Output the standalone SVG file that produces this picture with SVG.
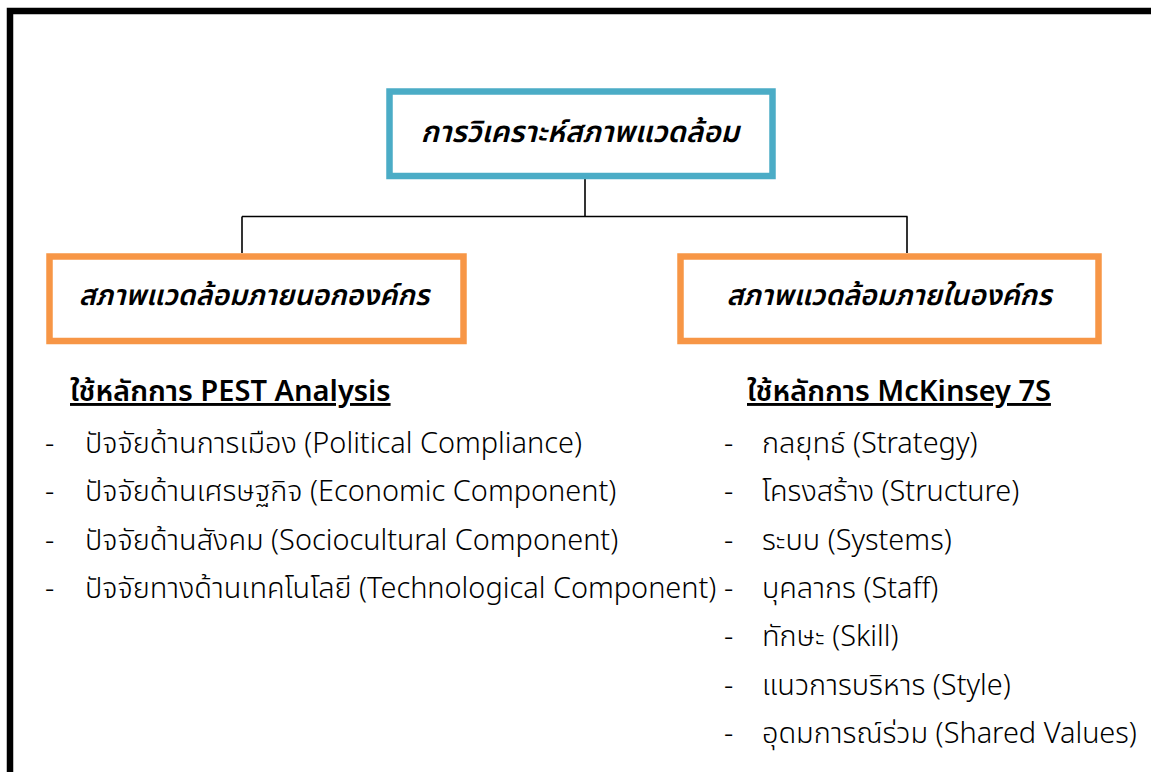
<svg xmlns="http://www.w3.org/2000/svg" width="1151" height="772" viewBox="0 0 1151 772">
<style>
.frame{fill:none;stroke:#000;stroke-width:6.5}
.conn{fill:none;stroke:#000;stroke-width:1.6}
.blue{fill:#fff;stroke:#4BACC6;stroke-width:6.5}
.orange{fill:#fff;stroke:#F79646;stroke-width:6.5}
.box{font-family:"Noto Sans Thai","Noto Sans","DejaVu Sans",sans-serif;font-style:italic;font-weight:600;font-size:29.5px;fill:#000;text-anchor:middle}
.sub{font-size:28.5px}
.hdr{font-family:"Noto Sans Thai","Noto Sans","DejaVu Sans",sans-serif;font-weight:600;font-size:29px;fill:#000;text-decoration:underline}
.item{font-family:"Noto Sans Thai","Noto Sans","DejaVu Sans",sans-serif;font-weight:300;font-size:28.9px;fill:#000}
</style>
<rect width="1151" height="772" fill="#fff"/>
<rect class="frame" x="10" y="11" width="1160" height="780"/>
<g id="connectors">
<line class="conn" x1="585" y1="179" x2="585" y2="216.5"/>
<line class="conn" x1="242" y1="216.5" x2="907.5" y2="216.5"/>
<line class="conn" x1="242" y1="216.5" x2="242" y2="253"/>
<line class="conn" x1="907" y1="216.5" x2="907" y2="253"/>
</g>
<g id="root">
<rect class="blue" x="389.5" y="91.5" width="383" height="84.5"/>
<text class="box" x="580" y="142">การวิเคราะห์สภาพแวดล้อม</text>
</g>
<g id="external">
<rect class="orange" x="49.5" y="256.5" width="414" height="84.5"/>
<text class="box sub" x="254" y="305">สภาพแวดล้อมภายนอกองค์กร</text>
</g>
<g id="internal">
<rect class="orange" x="680.5" y="256.5" width="418" height="84.5"/>
<text class="box sub" x="889" y="305">สภาพแวดล้อมภายในองค์กร</text>
</g>
<g id="pest">
<text class="hdr" x="70" y="401">ใช้หลักการ PEST Analysis</text>
<text class="item" x="45" y="453">-</text><text class="item" x="85" y="453">ปัจจัยด้านการเมือง (Political Compliance)</text>
<text class="item" x="45" y="501">-</text><text class="item" x="85" y="501">ปัจจัยด้านเศรษฐกิจ (Economic Component)</text>
<text class="item" x="45" y="550">-</text><text class="item" x="85" y="550">ปัจจัยด้านสังคม (Sociocultural Component)</text>
<text class="item" x="45" y="598">-</text><text class="item" x="85" y="598">ปัจจัยทางด้านเทคโนโลยี (Technological Component)</text>
</g>
<g id="mckinsey">
<text class="hdr" x="747" y="401">ใช้หลักการ McKinsey 7S</text>
<text class="item" x="724" y="453">-</text><text class="item" x="762" y="453">กลยุทธ์ (Strategy)</text>
<text class="item" x="724" y="501">-</text><text class="item" x="762" y="501">โครงสร้าง (Structure)</text>
<text class="item" x="724" y="550">-</text><text class="item" x="762" y="550">ระบบ (Systems)</text>
<text class="item" x="724" y="598">-</text><text class="item" x="762" y="598">บุคลากร (Staff)</text>
<text class="item" x="724" y="646">-</text><text class="item" x="762" y="646">ทักษะ (Skill)</text>
<text class="item" x="724" y="695">-</text><text class="item" x="762" y="695">แนวการบริหาร (Style)</text>
<text class="item" x="724" y="743">-</text><text class="item" x="762" y="743">อุดมการณ์ร่วม (Shared Values)</text>
</g>
</svg>
